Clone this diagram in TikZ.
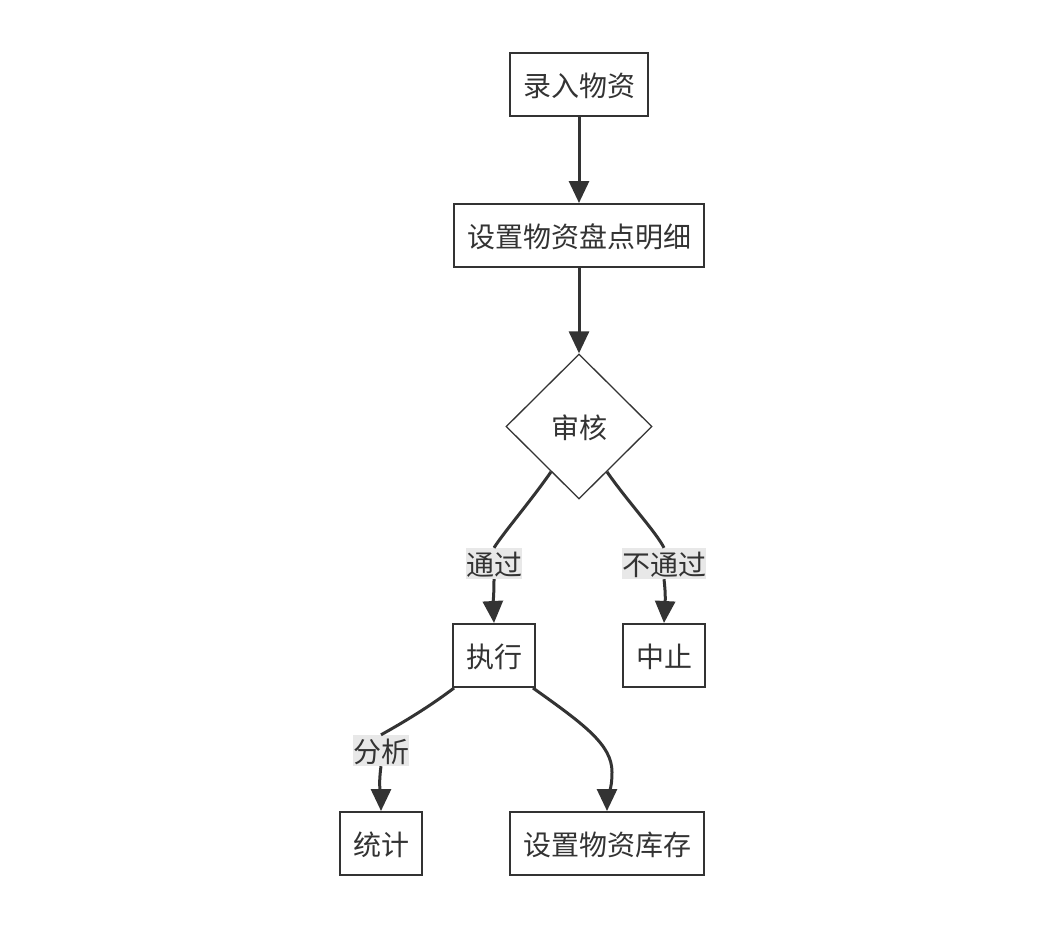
\documentclass[tikz,border=0pt]{standalone}
\usepackage{fontspec}
\setmainfont{Noto Sans CJK SC}
\usetikzlibrary{shapes.geometric,arrows.meta,calc}
\definecolor{ink}{HTML}{333333}
\definecolor{lblbg}{HTML}{E8E8E8}
\begin{document}
\begin{tikzpicture}[x=1pt,y=-1pt,
  txt/.style={font=\fontsize{28pt}{34pt}\selectfont, text=ink, text height=26pt, text depth=2pt},
  box/.style={txt, draw=ink, fill=white, line width=2pt, inner xsep=13pt, minimum height=63pt},
  dia/.style={txt, diamond, draw=ink, fill=white, line width=1.3pt, minimum width=146pt, minimum height=145pt, inner sep=0pt},
  lbl/.style={txt, fill=lblbg, inner xsep=0pt, inner ysep=1.5pt},
  conn/.style={draw=ink, line width=3pt, -{Triangle[length=22pt,width=20pt]}},
  connplain/.style={draw=ink, line width=3pt}]
\useasboundingbox (0,0) rectangle (1046,932);
\node[box] (a) at (579,84.5) {录入物资};
\node[box] (b) at (579,235.5) {设置物资盘点明细};
\node[dia] (d) at (579,426.5) {审核};
\node[lbl] (l1) at (494,563.5) {通过};
\node[lbl] (l2) at (664,563.5) {不通过};
\node[box] (x) at (494,655.5) {执行};
\node[box] (z) at (664,655.5) {中止};
\node[lbl] (l3) at (381,750.5) {分析};
\node[box] (t) at (381,843.5) {统计};
\node[box] (k) at (607,843.5) {设置物资库存};
\coordinate (ds1) at ($(d.west)!0.62!(d.south)$);
\coordinate (ds2) at ($(d.east)!0.62!(d.south)$);
\coordinate (xs1) at ($(x.south west)+(2,0)$);
\coordinate (xs2) at ($(x.south east)+(-3,0)$);
\draw[conn] (a) -- (b);
\draw[conn] (b) -- (d);
\draw[connplain] (ds1) .. controls (530,502) and (504,532) .. (l1.north);
\draw[conn] (l1.south) .. controls (494,596) and (493,604) .. (x.north);
\draw[connplain] (ds2) .. controls (628,502) and (656,532) .. (l2.north);
\draw[conn] (l2.south) .. controls (666,596) and (665,604) .. (z.north);
\draw[connplain] (xs1) .. controls (425,710) and (395,727) .. (l3.north);
\draw[conn] (l3.south) .. controls (378,788) and (381,796) .. (t.north);
\draw[conn] (xs2) .. controls (585,725) and (612,745) .. (612,772) .. controls (612,792) and (607,798) .. (k.north);
\end{tikzpicture}
\end{document}
